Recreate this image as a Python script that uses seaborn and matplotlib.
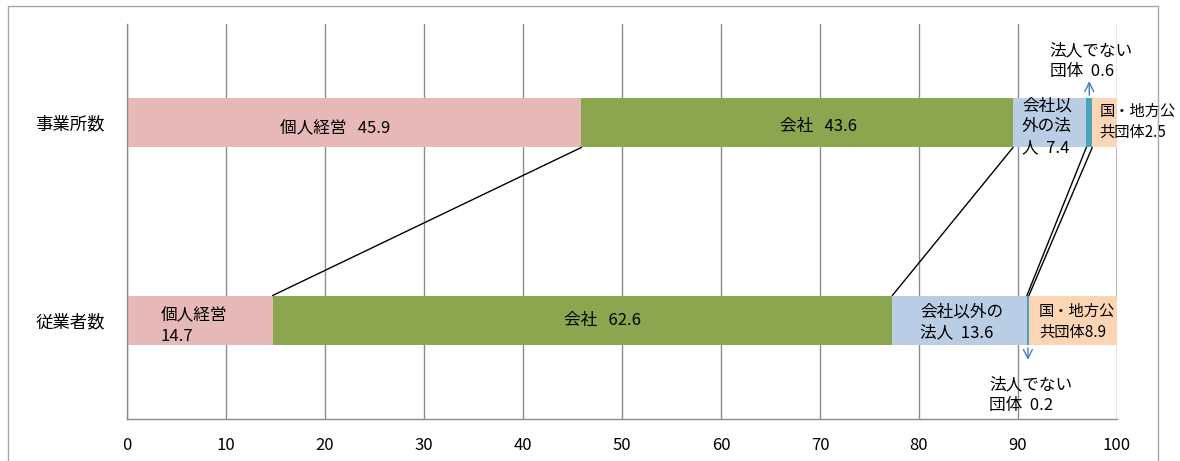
import numpy as np
import pandas as pd
import matplotlib
matplotlib.use("Agg")
import matplotlib.pyplot as plt
from matplotlib.patches import Rectangle
import seaborn as sns

# Shares (%) by type of organisation
categories = ["事業所数", "従業者数"]
segments = ["個人経営", "会社", "会社以外の法人", "法人でない団体", "国・地方公共団体"]
establishments = [45.9, 43.6, 7.4, 0.6, 2.5]
employees = [14.7, 62.6, 13.6, 0.2, 8.9]
ticks = [0, 10, 20, 30, 40, 50, 60, 70, 80, 90, 100]
colors = ["#E6B8B7", "#8CA64F", "#B9CDE5", "#4AA3BC", "#FCD5B5"]

sns.set_theme(style="white")
plt.rcParams["font.family"] = ["Noto Sans CJK JP", "DejaVu Sans"]

values = np.array([establishments, employees])
cum = np.cumsum(values, axis=1)
rows = []
for ci, cat in enumerate(categories):
    for si, seg in enumerate(segments):
        rows.append({"区分": cat, "組織": seg, "累積": cum[ci, si], "値": values[ci, si]})
df = pd.DataFrame(rows)

fig = plt.figure(figsize=(11.8, 4.61), dpi=100)
ax = fig.add_axes([127 / 1180, 1 - 419 / 461, 990 / 1180, 395 / 461])

# Stacked bars: draw cumulative totals from the outermost segment inwards
bar_w = 0.25
for si in reversed(range(len(segments))):
    sub = df[df["組織"] == segments[si]]
    sns.barplot(data=sub, x="累積", y="区分", order=categories, color=colors[si],
                orient="h", width=bar_w, saturation=1, linewidth=0, ax=ax, zorder=2)

ax.set_xlim(0, 100)
ax.set_ylim(1.5, -0.5)
ax.set_xticks(ticks)
ax.set_xlabel("")
ax.set_ylabel("")
ax.grid(axis="x", color="#8C8C8C", lw=1, zorder=0)
ax.set_axisbelow(True)
for side in ["top", "right"]:
    ax.spines[side].set_visible(False)
for side in ["left", "bottom"]:
    ax.spines[side].set_color("#8C8C8C")
    ax.spines[side].set_linewidth(1)
ax.tick_params(axis="x", direction="out", length=5, color="#8C8C8C", width=1,
               labelsize=12, pad=8, labelcolor="black")
ax.tick_params(axis="y", length=0, labelsize=12.5, pad=16, labelcolor="black")

# Series lines linking segment boundaries of the two bars
y_top = 0 + bar_w / 2
y_bot = 1 - bar_w / 2
for si in range(len(segments)):
    ax.plot([cum[0, si], cum[1, si]], [y_top, y_bot], color="black", lw=1, zorder=3)

fs = 12
txt = dict(fontsize=fs, color="black", zorder=5, linespacing=1.3)
small = dict(txt, fontsize=11)
arrow = dict(arrowstyle="->", color="#4A7EBB", lw=1, mutation_scale=16)

# Labels: 事業所数
e = establishments
ax.text(21.0, 0.03, f"{segments[0]}   {e[0]}", ha="center", va="center", **txt)
ax.text(69.8, 0.02, f"{segments[1]}   {e[1]}", ha="center", va="center", **txt)
ax.text(90.4, 0.02, f"会社以\n外の法\n人  {e[2]}", ha="left", va="center", **txt)
ax.text(93.2, -0.31, f"法人でない\n団体  {e[3]}", ha="left", va="center", **txt)
ax.text(98.2, -0.005, f"国・地方公\n共団体{e[4]}", ha="left", va="center", **small)
ax.annotate("", xy=(cum[0, 2] + e[3] / 2, -0.225), xytext=(cum[0, 2] + e[3] / 2, -bar_w / 2),
            arrowprops=arrow, zorder=5)

# Labels: 従業者数
m = employees
ax.text(3.4, 1.03, f"{segments[0]}\n{m[0]}", ha="left", va="center", **txt)
ax.text(48.0, 1.0, f"{segments[1]}   {m[1]}", ha="center", va="center", **txt)
ax.text(80.1, 1.01, f"会社以外の\n法人  {m[2]}", ha="left", va="center", **txt)
ax.text(92.1, 1.01, f"国・地方公\n共団体{m[4]}", ha="left", va="center", **small)
ax.text(87.1, 1.38, f"法人でない\n団体  {m[3]}", ha="left", va="center", **txt)
ax.annotate("", xy=(cum[1, 2] + m[3] / 2, 1.215), xytext=(cum[1, 2] + m[3] / 2, 1 + bar_w / 2),
            arrowprops=arrow, zorder=5)

# Chart-area frame
fig.patches.append(Rectangle((8 / 1180, -0.05), 1150 / 1180, 1.05 - 6 / 461,
                             transform=fig.transFigure, fill=False,
                             edgecolor="#A6A6A6", lw=1))

fig.savefig("out.png", dpi=100)
